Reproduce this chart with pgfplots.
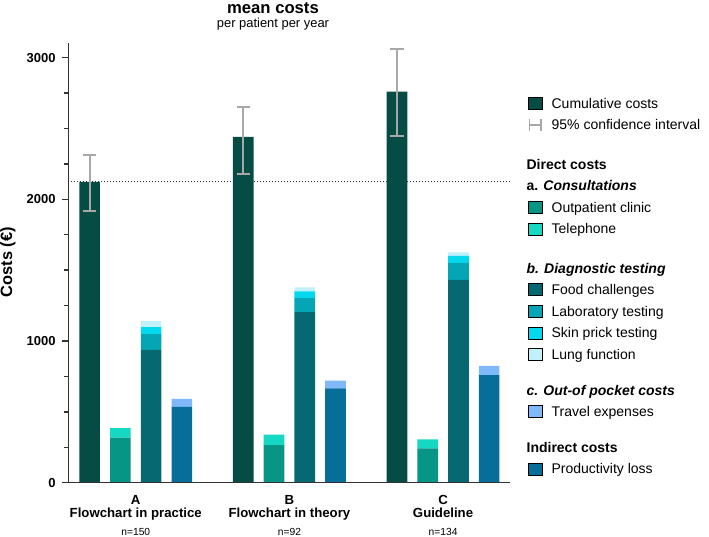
\documentclass[border=0pt]{standalone}
\usepackage{fontspec}
\setmainfont{Liberation Sans}
\usepackage{pgfplots}
\pgfplotsset{compat=1.18}
\definecolor{cumc}{HTML}{054D44}
\definecolor{outc}{HTML}{079585}
\definecolor{telc}{HTML}{14D8C2}
\definecolor{foodc}{HTML}{066971}
\definecolor{labc}{HTML}{05A5B6}
\definecolor{skinc}{HTML}{02D8EE}
\definecolor{lungc}{HTML}{C0F1FB}
\definecolor{travc}{HTML}{80B9FA}
\definecolor{prodc}{HTML}{076D99}
\definecolor{errc}{HTML}{A8A8A8}
\definecolor{axc}{HTML}{333333}
\newcommand\ls{\rule[-4.5pt]{0pt}{16.3pt}}
\newcommand\lh[1][28.5pt]{\rule[-4.5pt]{0pt}{#1}\hspace*{-18.75pt}}
\pgfplotsset{
  common/.style={at={(0pt,0pt)}, anchor=south west, scale only axis,
    width=331.3pt, height=330pt, xmin=-0.696, xmax=13.68, ymin=0, ymax=3105},
  sq/.style={legend image code/.code={\fill[##1] (0pt,-0.85pt) rectangle (10.5pt,8.15pt);}},
}
\begin{document}
\begin{tikzpicture}
\useasboundingbox (-51.2pt,-40pt) rectangle (480.5pt,362pt);
% stacked component bars
\begin{axis}[common, hide axis, ybar stacked, bar width=15.5pt]
\addplot[fill=outc, draw=none] coordinates {(1,318) (2,0) (3,0) (6,266) (7,0) (8,0) (11,243) (12,0) (13,0)};
\addplot[fill=telc, draw=none] coordinates {(1,68) (2,0) (3,0) (6,73) (7,0) (8,0) (11,63) (12,0) (13,0)};
\addplot[fill=foodc, draw=none] coordinates {(1,0) (2,937) (3,0) (6,0) (7,1203) (8,0) (11,0) (12,1431) (13,0)};
\addplot[fill=labc, draw=none] coordinates {(1,0) (2,112) (3,0) (6,0) (7,100) (8,0) (11,0) (12,120) (13,0)};
\addplot[fill=skinc, draw=none] coordinates {(1,0) (2,48) (3,0) (6,0) (7,48) (8,0) (11,0) (12,49) (13,0)};
\addplot[fill=lungc, draw=none] coordinates {(1,0) (2,44) (3,0) (6,0) (7,28) (8,0) (11,0) (12,26) (13,0)};
\addplot[fill=prodc, draw=none] coordinates {(1,0) (2,0) (3,536) (6,0) (7,0) (8,666) (11,0) (12,0) (13,760)};
\addplot[fill=travc, draw=none] coordinates {(1,0) (2,0) (3,55) (6,0) (7,0) (8,54) (11,0) (12,0) (13,64)};
\end{axis}
% main axis
\begin{axis}[common, axis on top,
  axis lines*=left,
  axis line style={line width=1.1pt, color=axc, -},
  ytick={0,1000,2000,3000},
  minor y tick num=3,
  tick align=outside,
  major tick length=5pt, minor tick length=3.5pt,
  every tick/.style={line width=1pt, color=axc},
  xtick style={draw=none},
  yticklabel style={font=\bfseries\fontsize{9.75}{10}\selectfont, xshift=-1pt},
  /pgf/number format/assume math mode=true,
  /pgf/number format/1000 sep={},
  xtick={1.5,6.5,11.5},
  xticklabels={
    {A\\Flowchart in practice\\[3.5pt]{\normalfont\fontsize{7.7}{9}\selectfont n=150}},
    {B\\Flowchart in theory\\[3.5pt]{\normalfont\fontsize{7.7}{9}\selectfont n=92}},
    {C\\Guideline\\[3.5pt]{\normalfont\fontsize{7.7}{9}\selectfont n=134}}},
  x tick label style={align=center, font=\bfseries\fontsize{9.9}{9.9}\selectfont, yshift=-1pt},
  legend cell align=left,
  legend style={draw=none, fill=none, at={(rel axis cs:1.0408,0.887)}, anchor=north west,
    row sep=2.85pt, column sep=6.75pt, inner sep=0pt, outer sep=0pt,
    cells={anchor=base west},
    nodes={inner ysep=0pt, inner xsep=0pt, font=\fontsize{10.5}{12}\selectfont}},
]
\addplot[forget plot, color=black!80, line width=0.75pt, dash pattern=on 0.75pt off 1.5pt] coordinates {(-0.696,2122) (13.68,2122)};
\addplot[forget plot, ybar, bar width=15.5pt, bar shift=0pt, fill=cumc, draw=none,
  error bars/.cd, y dir=both, y explicit,
  error bar style={draw=errc, line width=1.6pt},
  error mark options={draw=errc, line width=1.6pt, mark size=4.9pt, rotate=90}]
  coordinates {(0,2122) += (0,189) -= (0,202) (5,2440) += (0,209) -= (0,259) (10,2759) += (0,300) -= (0,310)};
\addlegendimage{sq, fill=cumc}\addlegendentry{\ls Cumulative costs}
\addlegendimage{legend image code/.code={\draw[errc, line width=1.2pt] (0.8pt,-0.85pt)--(0.8pt,8.15pt) (0.8pt,3.65pt)--(9.7pt,3.65pt) (9.7pt,-0.85pt)--(9.7pt,8.15pt);}}\addlegendentry{\ls 95\% confidence interval}
\addlegendimage{empty legend}\addlegendentry{\lh[29.7pt]\textbf{Direct costs}}
\addlegendimage{empty legend}\addlegendentry{\ls\hspace*{-18.75pt}\textbf{a. \textit{Consultations}}}
\addlegendimage{sq, fill=outc}\addlegendentry{\ls Outpatient clinic}
\addlegendimage{sq, fill=telc}\addlegendentry{\ls Telephone}
\addlegendimage{empty legend}\addlegendentry{\lh[29.7pt]\textbf{\textit{b. Diagnostic testing}}}
\addlegendimage{sq, fill=foodc}\addlegendentry{\ls Food challenges}
\addlegendimage{sq, fill=labc}\addlegendentry{\ls Laboratory testing}
\addlegendimage{sq, fill=skinc}\addlegendentry{\ls Skin prick testing}
\addlegendimage{sq, fill=lungc}\addlegendentry{\ls Lung function}
\addlegendimage{empty legend}\addlegendentry{\lh[27pt]\textbf{\textit{c. Out-of pocket costs}}}
\addlegendimage{sq, fill=travc}\addlegendentry{\ls Travel expenses}
\addlegendimage{empty legend}\addlegendentry{\lh[27pt]\textbf{Indirect costs}}
\addlegendimage{sq, fill=prodc}\addlegendentry{\ls Productivity loss}
\end{axis}
\node[font=\bfseries\fontsize{12.5}{14}\selectfont, anchor=base] at (153.5pt,352pt) {mean costs};
\node[font=\fontsize{9.7}{11}\selectfont, anchor=base] at (153.5pt,341.5pt) {per patient per year};
\node[font=\bfseries\fontsize{12.3}{14}\selectfont, rotate=90] at (-45.2pt,165.5pt) {Costs (€)};
\end{tikzpicture}
\end{document}
